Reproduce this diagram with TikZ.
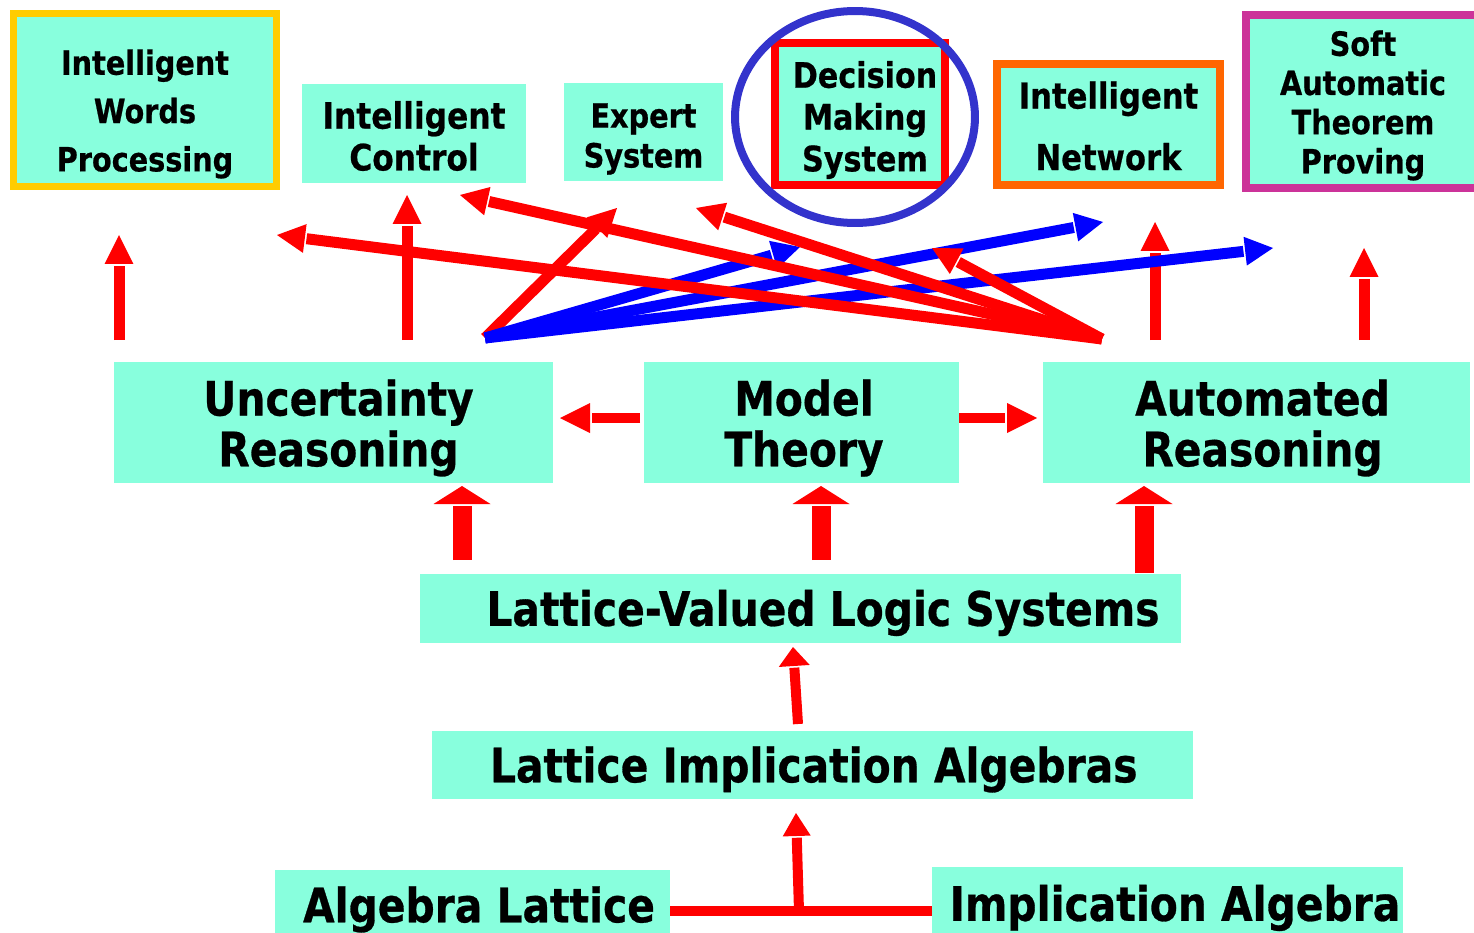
\documentclass[tikz,border=0pt]{standalone}
\usepackage{fontspec}
\setmainfont{DejaVu Sans}[FakeStretch=0.86, BoldFeatures={FakeBold=0.6}]
\usetikzlibrary{calc}
\definecolor{aqua}{RGB}{136,255,221}
\definecolor{ywl}{RGB}{255,204,0}
\definecolor{orng}{RGB}{255,102,0}
\definecolor{mag}{RGB}{204,51,153}
\definecolor{ellc}{RGB}{51,51,204}
% block arrow: colour, start, tip, shaft width, head half width, head length
\newcommand\blk[6]{%
  \path ($(#3)!#6!(#2)$) coordinate (bB) ($(#3)!#6+0.035cm!(#2)$) coordinate (bG);
  \draw[#1, line width=#4] (#2) -- (bG);
  \fill[#1] (#3) -- ($(bB)!#5!90:(#3)$) -- ($(bB)!#5!-90:(#3)$) -- cycle;
}
\begin{document}
\begin{tikzpicture}[x=0.02cm,y=-0.02cm,
  box/.style={fill=aqua, inner sep=0pt},
  txt/.style={inner sep=0pt, align=center, text=black},
  sz/.style 2 args={minimum width=#1*0.02cm, minimum height=#2*0.02cm},
  fs/.style 2 args={font=\fontsize{#1}{#2}\selectfont\bfseries},
  one/.style={text height=19.7pt, text depth=0pt},
]
\useasboundingbox (0,0) rectangle (1474,933);
\clip (0,0) rectangle (1474,933);

% top row
\node[box, sz={263}{173}, draw=ywl, line width=0.14cm] (iwp) at (145,100) {};
\node[txt, fs={19}{27.5}] (iwpT) at ($(iwp)+(0,14)$) {Intelligent\\Words\\Processing};
\node[box, sz={224}{99}] (ic) at (414,133.5) {};
\node[txt, fs={20.7}{23.8}] (icT) at ($(ic)+(0,2.5)$) {Intelligent\\Control};
\node[box, sz={159}{98}] (es) at (643.5,132) {};
\node[txt, fs={19}{22.7}] (esT) at ($(es)+(0,7)$) {Expert\\System};
\node[box, sz={170}{142}, draw=red, line width=0.16cm] (dms) at (860,114) {};
\node[txt, fs={20}{23.8}] (dmsT) at ($(dms)+(5,6)$) {Decision\\Making\\System};
\draw[ellc, line width=0.16cm] (855,117) ellipse [x radius=2.4cm, y radius=2.12cm];
\node[box, sz={223}{121}, draw=orng, line width=0.16cm] (inet) at (1108.5,124.5) {};
\node[txt, fs={20.3}{35}] (inetT) at ($(inet)+(0,1.5)$) {Intelligent\\Network};
\node[box, sz={234}{173}, draw=mag, line width=0.16cm] (satp) at (1363,101.5) {};
\node[txt, fs={19}{22.3}] (satpT) at ($(satp)+(0,4)$) {Soft\\Automatic\\Theorem\\Proving};

% middle row
\node[box, sz={439}{121}] (ur) at (333.5,422.5) {};
\node[txt, fs={27}{28.9}] (urT) at ($(ur)+(5,5.5)$) {Uncertainty\\Reasoning};
\node[box, sz={315}{121}] (mt) at (801.5,422.5) {};
\node[txt, fs={27}{28.9}] (mtT) at ($(mt)+(2.5,5.5)$) {Model\\Theory};
\node[box, sz={427}{121}] (ar) at (1256.5,422.5) {};
\node[txt, fs={27}{28.9}] (arT) at ($(ar)+(6,5.5)$) {Automated\\Reasoning};

% lower boxes
\node[box, txt, one, sz={761}{69}, fs={27}{28.9}] (lvls) at (800.5,608.5) {\hspace*{0.9cm}Lattice-Valued Logic Systems};
\node[box, txt, one, sz={761}{68}, fs={27}{28.9}] (lia) at (812.5,765) {\hspace*{0.05cm}Lattice Implication Algebras};
\node[box, txt, one, sz={395}{70}, fs={27}{28.9}] (al) at (472.5,905) {\hspace*{0.26cm}Algebra Lattice};
\node[box, txt, one, sz={471}{73}, fs={27}{28.9}] (ia) at (1167.5,903.5) {\hspace*{0.3cm}Implication Algebra};

% coordinates
\coordinate (Lo) at (485,338);
\coordinate (Ro) at (1102,339);
\coordinate (tExp) at (617,208);
\coordinate (tB1) at (800,247);
\coordinate (tB2) at (1103,222);
\coordinate (tB3) at (1273,248);
\coordinate (tIWPd) at (277,235);
\coordinate (tICd) at (460,195);
\coordinate (tDMS) at (696,208);
\coordinate (tShort) at (932,248);
\coordinate (v1s) at (119,340); \coordinate (v1e) at (119,235);
\coordinate (v2s) at (407,340); \coordinate (v2e) at (407,195);
\coordinate (v3s) at (1155,340); \coordinate (v3e) at (1155,222);
\coordinate (v4s) at (1364,340); \coordinate (v4e) at (1364,248);
\coordinate (mls) at (640,418); \coordinate (mle) at (560,418);
\coordinate (mrs) at (959,418); \coordinate (mre) at (1037,418);
\coordinate (f1s) at (462,560); \coordinate (f1e) at (462,486);
\coordinate (f2s) at (821,560); \coordinate (f2e) at (821,486);
\coordinate (f3s) at (1144,573); \coordinate (f3e) at (1144,486);
\coordinate (ls) at (798,724); \coordinate (le) at (793,647);
\coordinate (tj) at (799,911); \coordinate (te) at (796,813);

% vertical thin arrows
\blk{red}{v1s}{v1e}{0.22cm}{0.29cm}{0.58cm}
\blk{red}{v2s}{v2e}{0.22cm}{0.29cm}{0.58cm}
\blk{red}{v3s}{v3e}{0.22cm}{0.29cm}{0.58cm}
\blk{red}{v4s}{v4e}{0.22cm}{0.29cm}{0.58cm}

% fan from left origin
\blk{red}{Lo}{tExp}{0.22cm}{0.29cm}{0.56cm}
\blk{blue}{Lo}{tB1}{0.22cm}{0.29cm}{0.56cm}
\blk{blue}{Lo}{tB2}{0.22cm}{0.29cm}{0.56cm}
\blk{blue}{Lo}{tB3}{0.22cm}{0.29cm}{0.56cm}

% fan from right origin
\blk{red}{Ro}{tIWPd}{0.22cm}{0.29cm}{0.56cm}
\blk{red}{Ro}{tICd}{0.22cm}{0.29cm}{0.56cm}
\blk{red}{Ro}{tDMS}{0.22cm}{0.29cm}{0.56cm}
\blk{red}{Ro}{tShort}{0.22cm}{0.29cm}{0.56cm}

% model theory arrows
\blk{red}{mls}{mle}{0.2cm}{0.3cm}{0.6cm}
\blk{red}{mrs}{mre}{0.2cm}{0.3cm}{0.6cm}

% fat arrows
\blk{red}{f1s}{f1e}{0.38cm}{0.57cm}{0.36cm}
\blk{red}{f2s}{f2e}{0.38cm}{0.57cm}{0.36cm}
\blk{red}{f3s}{f3e}{0.38cm}{0.57cm}{0.36cm}

% lower arrows
\blk{red}{ls}{le}{0.2cm}{0.31cm}{0.38cm}
\draw[red, line width=0.2cm] (al.east|-tj) -- (ia.west|-tj);
\blk{red}{tj}{te}{0.2cm}{0.28cm}{0.46cm}
\end{tikzpicture}
\end{document}
